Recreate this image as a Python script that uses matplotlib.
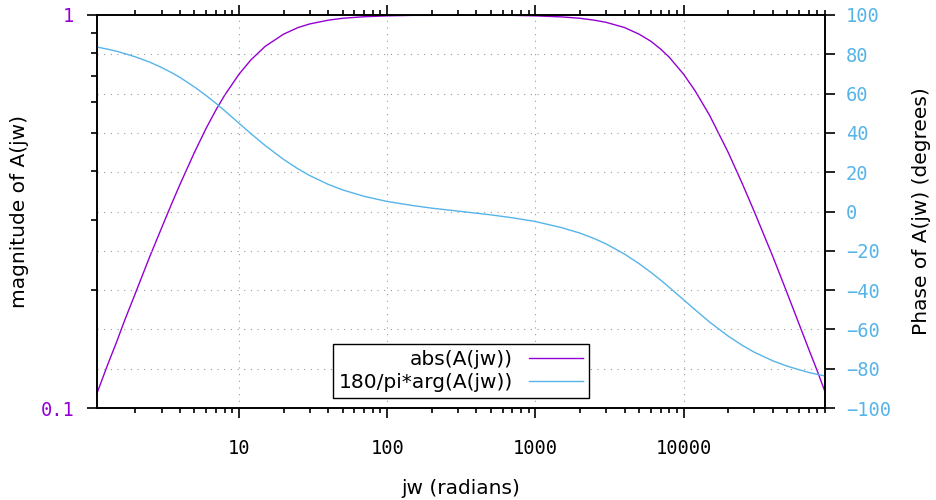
import matplotlib
matplotlib.use('Agg')
import matplotlib.pyplot as plt
from matplotlib.ticker import FixedLocator, FixedFormatter, NullFormatter, LogLocator

# Data
jw = [1.1, 1.3, 1.5, 1.7, 2, 2.5, 3, 3.5, 4, 5, 6, 7, 8, 10, 12, 15, 20, 25, 30, 40,
      50, 70, 100, 150, 200, 300, 500, 700, 1000, 1500, 2000, 2500, 3000, 4000, 5000,
      6000, 7000, 8000, 10000, 12000, 15000, 20000, 25000, 30000, 40000, 50000,
      60000, 70000, 80000, 90000]
magnitude = [0.109, 0.129, 0.148, 0.168, 0.196, 0.243, 0.287, 0.330, 0.371, 0.447,
             0.515, 0.574, 0.625, 0.707, 0.768, 0.832, 0.894, 0.929, 0.949, 0.970,
             0.981, 0.990, 0.995, 0.998, 0.998, 0.999, 0.999, 0.998, 0.995, 0.989,
             0.981, 0.970, 0.958, 0.929, 0.894, 0.858, 0.819, 0.781, 0.707, 0.640,
             0.555, 0.447, 0.371, 0.316, 0.243, 0.196, 0.164, 0.141, 0.124, 0.110]
phase = [83.7, 82.6, 81.5, 80.3, 78.7, 76.0, 73.3, 70.7, 68.2, 63.4, 59.0, 55.0,
         51.3, 44.9, 39.7, 33.6, 26.5, 21.7, 18.3, 13.8, 11.0, 7.7, 5.1, 3.0, 1.7,
         0.2, -1.7, -3.2, -5.1, -8.2, -11.0, -13.8, -16.5, -21.7, -26.5, -30.9,
         -34.9, -38.6, -44.9, -50.1, -56.3, -63.4, -68.2, -71.6, -76.0, -78.7,
         -80.5, -81.9, -82.9, -83.7]

mag_color = '#9400D3'
phase_color = '#56B4E9'
grid_style = dict(color='#999999', linestyle=(0, (1, 5)), linewidth=0.8)
tick_font = 'DejaVu Sans Mono'

fig = plt.figure(figsize=(9.36, 5), dpi=100)
ax = fig.add_axes([0.1036, 0.184, 0.7778, 0.786])
ax2 = ax.twinx()

l1, = ax.plot(jw, magnitude, color=mag_color, linewidth=1.0, label='abs(A(jw))')
l2, = ax2.plot(jw, phase, color=phase_color, linewidth=1.0, label='180/pi*arg(A(jw))')

ax.set_xscale('log')
ax.set_yscale('log')
ax.set_xlim(1.1, 90000)
ax.set_ylim(0.1, 1)
ax2.set_ylim(-100, 100)

# x ticks
ax.xaxis.set_major_locator(FixedLocator([10, 100, 1000, 10000]))
ax.xaxis.set_major_formatter(FixedFormatter(['10', '100', '1000', '10000']))
ax.xaxis.set_minor_locator(LogLocator(base=10, subs=range(2, 10), numticks=20))
ax.xaxis.set_minor_formatter(NullFormatter())

# left y ticks
ax.yaxis.set_major_locator(FixedLocator([0.1, 1]))
ax.yaxis.set_major_formatter(FixedFormatter(['0.1', '1']))
ax.yaxis.set_minor_locator(FixedLocator([0.2, 0.3, 0.4, 0.5, 0.6, 0.7, 0.8, 0.9]))
ax.yaxis.set_minor_formatter(NullFormatter())

# right y ticks
y2_ticks = list(range(-100, 101, 20))
ax2.yaxis.set_major_locator(FixedLocator(y2_ticks))
ax2.yaxis.set_minor_locator(FixedLocator([]))

ax.tick_params(axis='x', which='both', direction='out', top=True, width=1.2)
ax.tick_params(axis='x', which='major', length=7.2, pad=15)
ax.tick_params(axis='x', which='minor', length=3.6)
ax.tick_params(axis='y', which='both', direction='out', right=False, width=1.2,
               labelcolor=mag_color)
ax.tick_params(axis='y', which='major', length=7.2, pad=9)
ax.tick_params(axis='y', which='minor', length=4)
ax2.tick_params(axis='y', which='major', direction='out', length=7.2, width=1.2,
                pad=8, labelcolor=phase_color)

for lab in ax.get_xticklabels() + ax.get_yticklabels() + ax2.get_yticklabels():
    lab.set_fontfamily(tick_font)
    lab.set_fontsize(13.5)

for a in (ax, ax2):
    for s in a.spines.values():
        s.set_linewidth(1.2)

# grid: x major on x axis, horizontal lines at y2 ticks
for x in [10, 100, 1000, 10000]:
    ax.axvline(x, zorder=0, **grid_style)
for y in y2_ticks[1:-1]:
    ax2.axhline(y, zorder=0, **grid_style)

ax.set_xlabel('jw (radians)', fontsize=14.5, va='center')
ax.xaxis.set_label_coords(0.5, -0.206)
ax.set_ylabel('magnitude of A(jw)', fontsize=14.5, va='center', ha='center')
ax.yaxis.set_label_coords(-0.106, 0.5)
ax2.set_ylabel('Phase of A(jw) (degrees)', fontsize=14.5, va='center', ha='center')
ax2.yaxis.set_label_coords(1.132, 0.5)

leg = ax2.legend(handles=[l1, l2], loc='lower center', bbox_to_anchor=(0.5, 0.025),
                 fontsize=14.5, markerfirst=False, fancybox=False, shadow=False,
                 framealpha=1, edgecolor='black', handlelength=2.7,
                 labelspacing=0.2, borderpad=0.3, handletextpad=0.8, borderaxespad=0)
leg.get_frame().set_linewidth(1.0)

fig.savefig('out.png', dpi=100)
